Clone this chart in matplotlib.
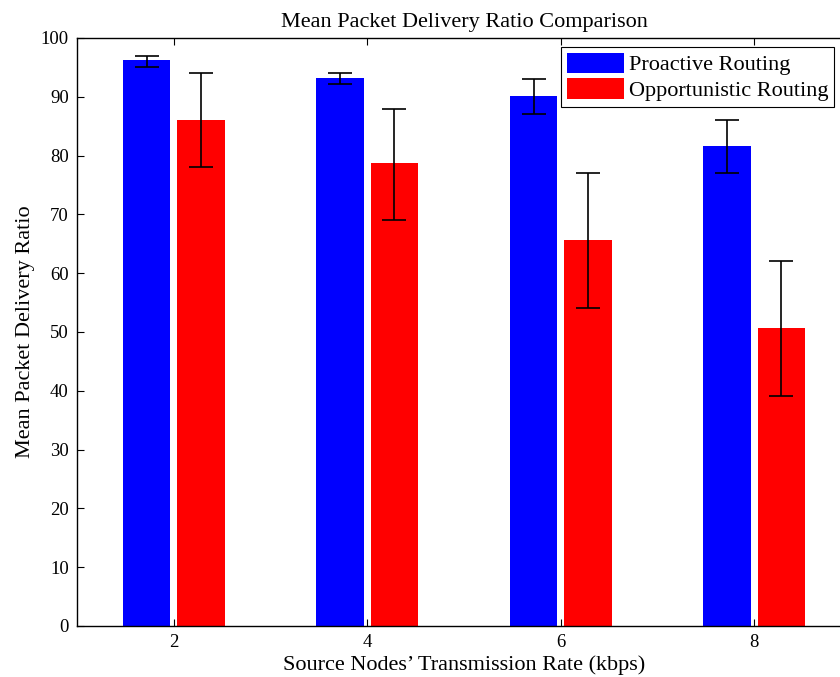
import numpy as np
import matplotlib
matplotlib.use("Agg")
import matplotlib.pyplot as plt

rates = [2, 4, 6, 8]
proactive = [96.2, 93.2, 90.1, 81.7]
proactive_lo = [95.0, 92.2, 87.0, 77.1]
proactive_hi = [97.0, 94.0, 93.0, 86.0]
opportunistic = [86.1, 78.7, 65.7, 50.7]
opportunistic_lo = [78.1, 69.0, 54.0, 39.1]
opportunistic_hi = [94.0, 88.0, 77.0, 62.0]

plt.rcParams['font.family'] = ['Liberation Serif', 'DejaVu Serif']
plt.rcParams['font.size'] = 13

fig = plt.figure(figsize=(8.4, 6.77), dpi=100)
# axes runs past the right edge of the figure, like the reference crop
ax = fig.add_axes([77 / 840, 1 - 626 / 677, (851 - 77) / 840, (626 - 38) / 677])

x = np.array(rates, dtype=float)
off = 0.28
w = 0.49
p = np.array(proactive)
o = np.array(opportunistic)
p_err = [p - np.array(proactive_lo), np.array(proactive_hi) - p]
o_err = [o - np.array(opportunistic_lo), np.array(opportunistic_hi) - o]

ax.bar(x - off, p, w, color='#0000ff', edgecolor='none', label='Proactive Routing')
ax.bar(x + off, o, w, color='#ff0000', edgecolor='none', label='Opportunistic Routing')
ax.errorbar(x - off, p, yerr=p_err, fmt='none', ecolor='black', elinewidth=1.2,
            capsize=8.5, capthick=1.2)
ax.errorbar(x + off, o, yerr=o_err, fmt='none', ecolor='black', elinewidth=1.2,
            capsize=8.5, capthick=1.2)

ax.set_xlim(1, 9)
ax.set_ylim(0, 100)
ax.set_xticks(rates)
ax.set_yticks(np.arange(0, 101, 10))
ax.tick_params(direction='in', top=True, right=True, length=5, width=0.8, pad=6,
               labelsize=13.5)
for s in ax.spines.values():
    s.set_linewidth(1.0)

ax.set_title('Mean Packet Delivery Ratio Comparison', fontsize=16, pad=8)
ax.set_xlabel("Source Nodes\u2019 Transmission Rate (kbps)", fontsize=16, labelpad=3)
ax.set_ylabel('Mean Packet Delivery Ratio', fontsize=16, labelpad=4)

leg = ax.legend(loc='upper left', bbox_to_anchor=((561 - 77) / 774, 1 - 9 / 588),
                fancybox=False, edgecolor='black', framealpha=1, borderpad=0.25,
                borderaxespad=0, handlelength=2.6, handleheight=1.05,
                handletextpad=0.2, labelspacing=0.12, fontsize=16)
leg.get_frame().set_linewidth(0.8)

fig.savefig('out.png', dpi=100)
